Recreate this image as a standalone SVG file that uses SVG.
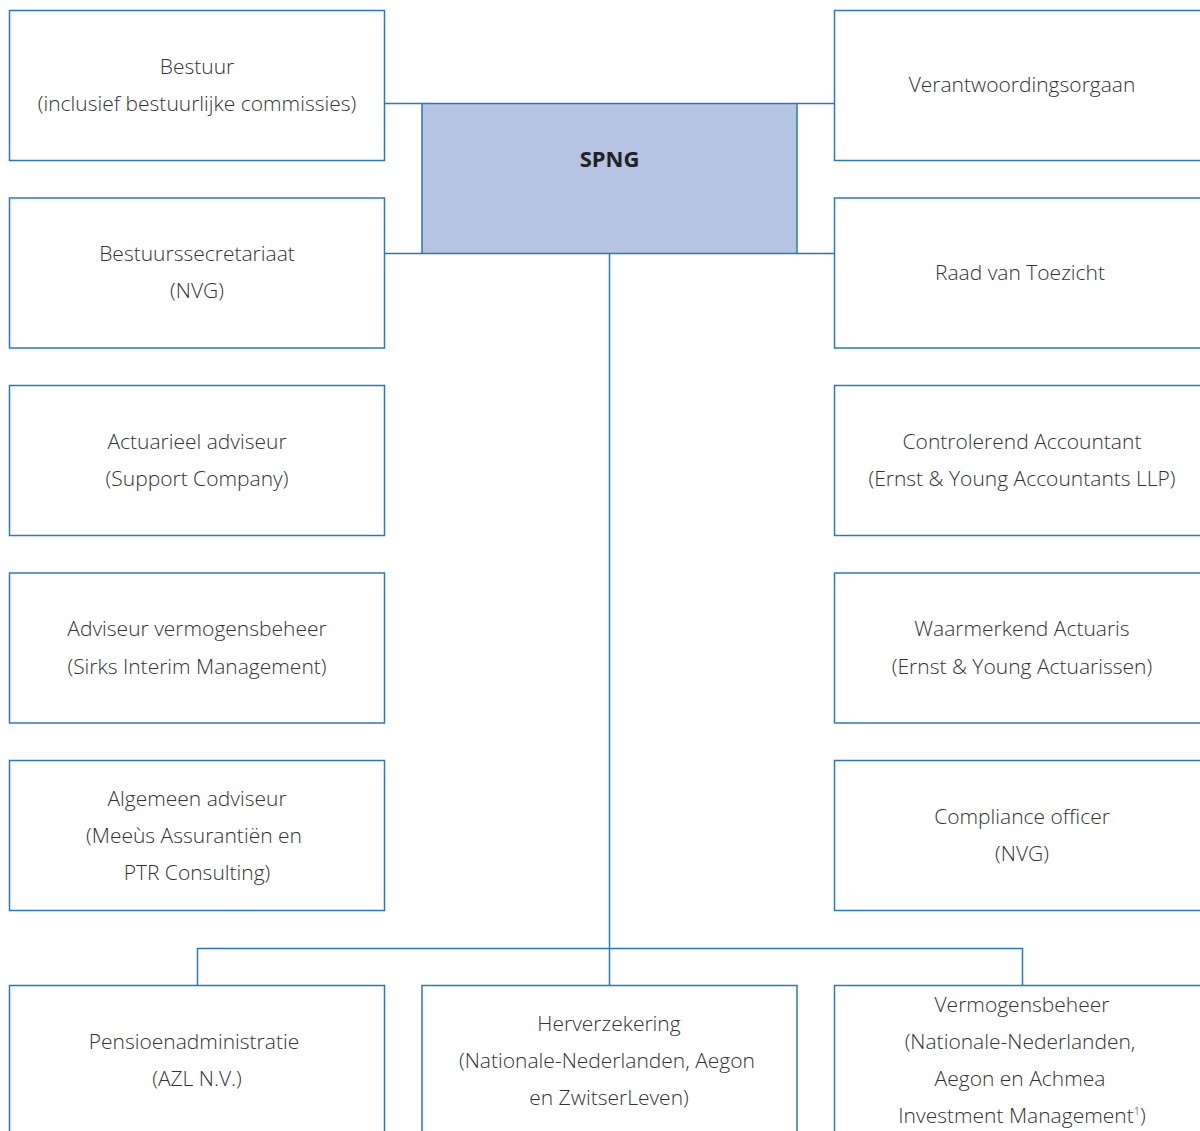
<svg xmlns="http://www.w3.org/2000/svg" width="1200" height="1131" viewBox="0 0 1200 1131">
<style>
.box{fill:#fff;stroke:#2b78c2;stroke-width:1.5}
.main{fill:#b4c4e2;stroke:#2b78c2;stroke-width:1.5}
.t{font-family:"Open Sans","Liberation Sans",sans-serif;font-weight:300;font-size:21px;fill:#333;text-anchor:middle}
.b{font-family:"Open Sans","Liberation Sans",sans-serif;font-weight:700;font-size:22px;fill:#222;text-anchor:middle}
.c{fill:none;stroke:#2b78c2;stroke-width:1.5}
</style>
<rect width="1200" height="1131" fill="#fff"/>
<g id="connectors">
<path class="c" d="M384 103.5H422M797 103.5H834M384 253.5H422M797 253.5H834"/>
<path class="c" d="M609.5 253V985M197.5 985V948.5H1022.5V985"/>
</g>
<g id="spng"><rect class="main" x="422" y="103.5" width="375" height="150"/><text class="b" x="609.5" y="167">SPNG</text></g>
<g id="bestuur"><rect class="box" x="9.5" y="10.5" width="375" height="150"/><text class="t" x="197" y="74">Bestuur</text><text class="t" x="197" y="111">(inclusief bestuurlijke commissies)</text></g>
<g id="verantwoordingsorgaan"><rect class="box" x="834.5" y="10.5" width="375" height="150"/><text class="t" x="1022" y="92">Verantwoordingsorgaan</text></g>
<g id="bestuurssecretariaat"><rect class="box" x="9.5" y="198" width="375" height="150"/><text class="t" x="197" y="261">Bestuurssecretariaat</text><text class="t" x="197" y="298">(NVG)</text></g>
<g id="raad"><rect class="box" x="834.5" y="198" width="375" height="150"/><text class="t" x="1020" y="280">Raad van Toezicht</text></g>
<g id="actuarieel"><rect class="box" x="9.5" y="385.5" width="375" height="150"/><text class="t" x="197" y="449">Actuarieel adviseur</text><text class="t" x="197" y="486">(Support Company)</text></g>
<g id="controlerend"><rect class="box" x="834.5" y="385.5" width="375" height="150"/><text class="t" x="1022" y="449">Controlerend Accountant</text><text class="t" x="1022" y="486">(Ernst &amp; Young Accountants LLP)</text></g>
<g id="adviseur-vb"><rect class="box" x="9.5" y="573" width="375" height="150"/><text class="t" x="197" y="636">Adviseur vermogensbeheer</text><text class="t" x="197" y="674">(Sirks Interim Management)</text></g>
<g id="waarmerkend"><rect class="box" x="834.5" y="573" width="375" height="150"/><text class="t" x="1022" y="636">Waarmerkend Actuaris</text><text class="t" x="1022" y="674">(Ernst &amp; Young Actuarissen)</text></g>
<g id="algemeen"><rect class="box" x="9.5" y="760.5" width="375" height="150"/><text class="t" x="197" y="806">Algemeen adviseur</text><text class="t" x="194" y="843">(Meeùs Assurantiën en</text><text class="t" x="197" y="880">PTR Consulting)</text></g>
<g id="compliance"><rect class="box" x="834.5" y="760.5" width="375" height="150"/><text class="t" x="1022" y="824">Compliance officer</text><text class="t" x="1022" y="861">(NVG)</text></g>
<g id="pensioen"><rect class="box" x="9.5" y="985.5" width="375" height="160"/><text class="t" x="194" y="1049">Pensioenadministratie</text><text class="t" x="197" y="1086">(AZL N.V.)</text></g>
<g id="herverzekering"><rect class="box" x="422" y="985.5" width="375" height="160"/><text class="t" x="609" y="1031">Herverzekering</text><text class="t" x="607" y="1068">(Nationale-Nederlanden, Aegon</text><text class="t" x="609" y="1105">en ZwitserLeven)</text></g>
<g id="vermogensbeheer"><rect class="box" x="834.5" y="985.5" width="375" height="160"/><text class="t" x="1022" y="1012">Vermogensbeheer</text><text class="t" x="1020" y="1049">(Nationale-Nederlanden,</text><text class="t" x="1020" y="1086">Aegon en Achmea</text><text class="t" x="1022" y="1123">Investment Management<tspan font-size="11" dy="-8">1</tspan><tspan dy="8">)</tspan></text></g>
</svg>
